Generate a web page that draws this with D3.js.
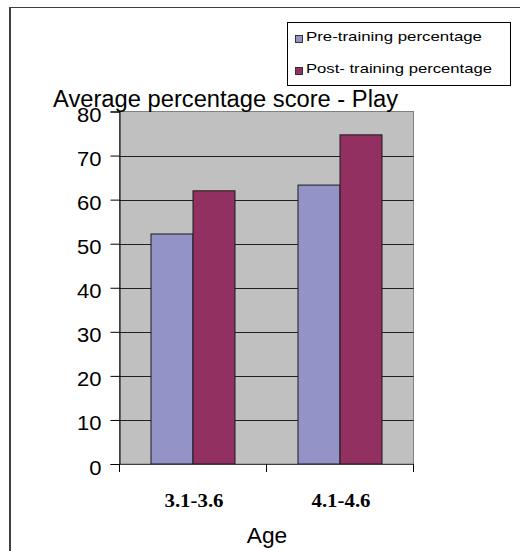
<!DOCTYPE html>
<html><head><meta charset="utf-8">
<script src="https://cdn.jsdelivr.net/npm/d3@7"></script>
<style>body{margin:0;background:#fff}svg{display:block}</style>
</head><body>
<svg id="c" width="520" height="551"></svg>
<script>
const categories = ["3.1-3.6", "4.1-4.6"];
const seriesNames = ["Pre-training percentage", "Post- training percentage"];
// values per category
const pre = [52.2, 63.3];
const post = [62.0, 74.7];
const yTicks = [0, 10, 20, 30, 40, 50, 60, 70, 80];
const colors = ["#9393c8", "#923161"];

const svg = d3.select("#c");
const SANS = "Liberation Sans, Arial, sans-serif";
const m = {l: 119.5, t: 111.5, r: 413.5, b: 464};
const x = d3.scaleBand().domain(categories).range([m.l, m.r]);
const xs = d3.scaleBand().domain([0, 1]).range([0, 84]);
const y = d3.scaleLinear().domain([0, 80]).range([m.b, m.t]);

function stretch(sel, f) {
  sel.each(function () {
    const w = this.getComputedTextLength();
    d3.select(this).attr("textLength", w * f).attr("lengthAdjust", "spacingAndGlyphs");
  });
}

// outer frame
svg.append("line").attr("x1", 10).attr("x2", 10).attr("y1", 7).attr("y2", 551).attr("stroke", "#404040").attr("stroke-width", 2);
svg.append("line").attr("x1", 9).attr("x2", 520).attr("y1", 7.5).attr("y2", 7.5).attr("stroke", "#404040").attr("stroke-width", 1);

// plot background
svg.append("rect").attr("x", m.l).attr("y", m.t).attr("width", m.r - m.l).attr("height", m.b - m.t)
  .attr("fill", "#c0c0c0").attr("stroke", "#808080").attr("stroke-width", 1);

// gridlines
svg.append("g").selectAll("line").data(yTicks.filter(d => d > 0 && d < 80)).join("line")
  .attr("x1", m.l).attr("x2", m.r).attr("y1", d => Math.round(y(d)) + 0.5).attr("y2", d => Math.round(y(d)) + 0.5)
  .attr("stroke", "#202020").attr("stroke-width", 1);

// bars
const data = categories.map((c, i) => ({c, vals: [pre[i], post[i]]}));
const g = svg.append("g");
data.forEach(d => {
  d.vals.forEach((v, j) => {
    const x0 = x(d.c) + x.bandwidth() / 2 - 42 + xs(j);
    g.append("rect").attr("x", x0).attr("y", y(v)).attr("width", xs.bandwidth()).attr("height", y(0) - y(v))
      .attr("fill", colors[j]).attr("stroke", "#1a1a1a").attr("stroke-width", 1);
  });
});

// y axis
const ya = d3.axisLeft(y).tickValues(yTicks).tickSize(9).tickPadding(9).tickFormat(d3.format("d"));
const yg = svg.append("g").attr("transform", `translate(${m.l},0)`).call(ya);
yg.select(".domain").attr("stroke", "#000");
yg.selectAll("line").attr("stroke", "#000");
yg.selectAll("text").attr("font-family", SANS).attr("font-size", 20).attr("fill", "#000").attr("dy", "0.5em")
  .call(stretch, 1.1);

// x axis
const xa = d3.axisBottom(x).tickSize(0).tickFormat("");
const xg = svg.append("g").attr("transform", `translate(0,${m.b})`).call(xa);
xg.select(".domain").attr("stroke", "#404040");
svg.append("g").selectAll("line").data([m.l, x(categories[1]), m.r]).join("line")
  .attr("x1", d => d).attr("x2", d => d).attr("y1", m.b).attr("y2", m.b + 8).attr("stroke", "#000");
svg.append("g").selectAll("text").data(categories).join("text")
  .attr("x", d => x(d) + x.bandwidth() / 2 + 1).attr("y", 506.5).attr("text-anchor", "middle")
  .attr("font-family", "Liberation Serif, Times New Roman, serif").attr("font-weight", "bold").attr("font-size", 19.5)
  .text(d => d).attr("textLength", 59).attr("lengthAdjust", "spacingAndGlyphs");

// axis title
svg.append("text").attr("x", 267).attr("y", 543).attr("text-anchor", "middle")
  .attr("font-family", SANS).attr("font-size", 22).text("Age")
  .attr("textLength", 40.5).attr("lengthAdjust", "spacingAndGlyphs");

// chart title
svg.append("text").attr("x", 53).attr("y", 106.5)
  .attr("font-family", SANS).attr("font-size", 23).text("Average percentage score - Play")
  .attr("textLength", 345).attr("lengthAdjust", "spacingAndGlyphs");

// legend
const lg = svg.append("g");
lg.append("rect").attr("x", 287.5).attr("y", 22.5).attr("width", 223).attr("height", 63).attr("fill", "#fff").attr("stroke", "#000");
const legW = [176, 186];
seriesNames.forEach((s, i) => {
  lg.append("rect").attr("x", 295.5).attr("y", 35.5 + i * 32).attr("width", 7).attr("height", 7)
    .attr("fill", colors[i]).attr("stroke", "#333");
  lg.append("text").attr("x", 306).attr("y", 40.5 + i * 32)
    .attr("font-family", SANS).attr("font-size", 13.5).text(s)
    .attr("textLength", legW[i]).attr("lengthAdjust", "spacingAndGlyphs");
});
</script>
</body></html>
